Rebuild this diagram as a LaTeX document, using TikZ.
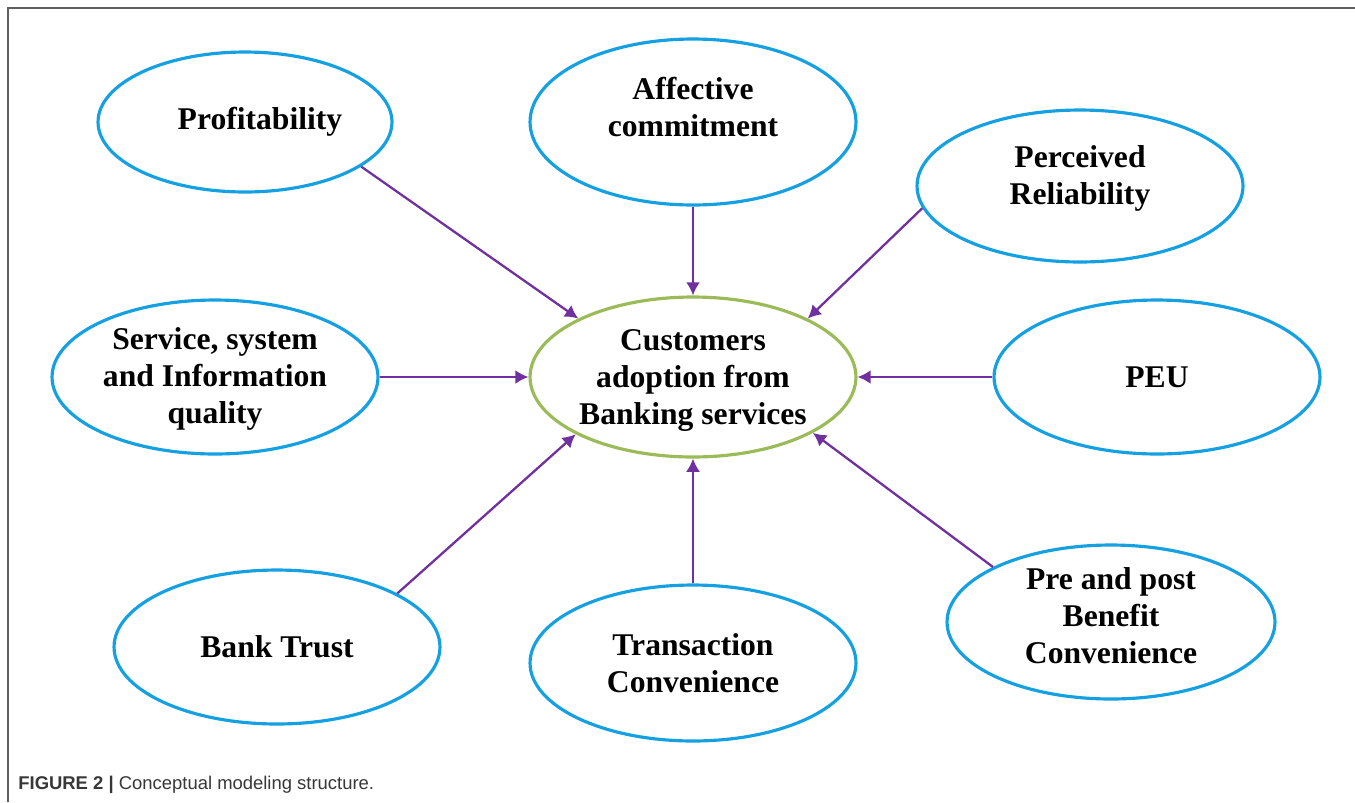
\documentclass[tikz,border=0pt]{standalone}
\usepackage{fontspec}
\setmainfont{Liberation Serif}
\setsansfont{Liberation Sans}
\usetikzlibrary{shapes.geometric,arrows.meta}

\definecolor{ringblue}{RGB}{20,160,225}
\definecolor{ringgreen}{RGB}{155,187,89}
\definecolor{arrowpurple}{RGB}{112,48,160}
\definecolor{captiongray}{RGB}{55,55,55}

\tikzset{
  bubble/.style={ellipse, draw=ringblue, line width=1.8pt, inner sep=0pt,
    minimum width=6.52cm, minimum height=3.08cm, align=center,
    font=\bfseries\fontsize{18}{21}\selectfont},
  core/.style={bubble, draw=ringgreen, minimum height=3.2cm},
  link/.style={draw=arrowpurple, line width=1.3pt, -{Latex[length=7.5pt,width=8pt]}}
}

\begin{document}
\begin{tikzpicture}[x=0.02cm,y=-0.02cm]
  \useasboundingbox (0,0) rectangle (1355,802);
  % frame on top and left
  \draw[gray!75!black, line width=1pt] (8,802) -- (8,8) -- (1355,8);
  % centre
  \node[core, text depth=0pt] (adopt) at (693,377) {Customers\\adoption from\\Banking services};
  % factors around the centre
  \node[bubble, minimum width=5.88cm, minimum height=2.8cm] (profit) at (245,122) {\hspace*{0.6cm}Profitability};
  \node[bubble, minimum height=3.32cm, text depth=17pt] (affect) at (693,122) {Affective\\commitment};
  \node[bubble, minimum height=3.04cm, text depth=12pt] (reliab) at (1080,186) {Perceived\\Reliability};
  \node[bubble, text depth=2pt] (quality) at (215,377) {Service, system\\and Information\\quality};
  \node[bubble] (peu) at (1157,377) {PEU};
  \node[bubble] (trust) at (277,647) {Bank Trust};
  \node[bubble, minimum height=3.12cm] (trans) at (693,663) {Transaction\\Convenience};
  \node[bubble, minimum width=6.56cm, text depth=7pt] (benefit) at (1111,622) {Pre and post\\Benefit\\Convenience};
  % arrows into the centre
  \draw[link] (profit.-21) -- (adopt.153);
  \draw[link] (affect.south) -- (adopt.north);
  \draw[link] (reliab.188) -- (adopt.27);
  \draw[link] (quality.east) -- (adopt.west);
  \draw[link] (peu.west) -- (adopt.east);
  \draw[link] (trust.24) -- (adopt.206);
  \draw[link] (trans.north) -- (adopt.south);
  \draw[link] (benefit.155) -- (adopt.335);
  % caption
  \node[anchor=base west, inner sep=0pt, text=captiongray,
        font=\sffamily\fontsize{10.5}{12}\selectfont] (caption) at (18,789)
        {\textbf{FIGURE 2 |} Conceptual modeling structure.};
\end{tikzpicture}
\end{document}
